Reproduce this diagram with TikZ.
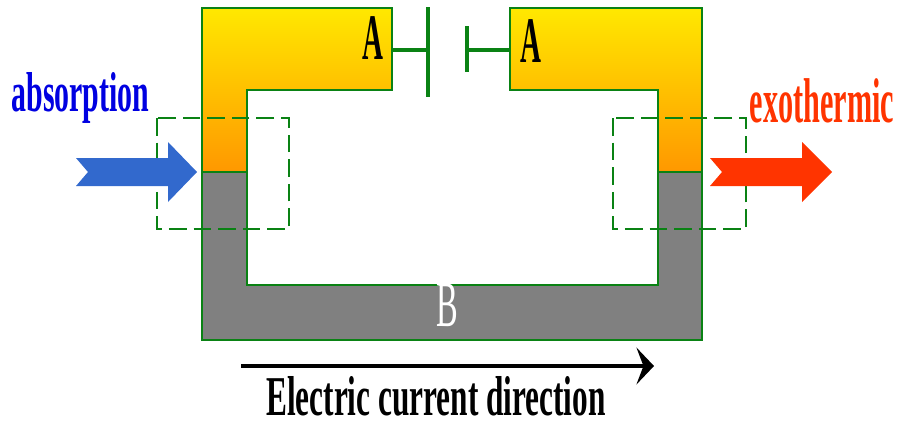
\documentclass[tikz,border=0pt]{standalone}
\usepackage{fontspec}
\setmainfont{Liberation Serif}
\usepackage{tikz}
\usetikzlibrary{arrows.meta}
\definecolor{wire}{RGB}{10,130,20}
\definecolor{metaltop}{RGB}{255,232,0}
\definecolor{metalbot}{RGB}{255,152,0}
\definecolor{heatblue}{RGB}{50,105,205}
\definecolor{heatred}{RGB}{255,52,0}
\newcommand{\wordbox}[3]{\scalebox{#1}[#2]{#3}}

\begin{document}
\begin{tikzpicture}[
    x=0.02cm, y=-0.02cm,
    metal/.style={draw=wire, line width=1.3pt, top color=metaltop, bottom color=metalbot},
    joint/.style={draw=wire, line width=1.3pt, fill=gray},
    plate/.style={draw=wire, line width=1.8pt},
    stem/.style={draw=wire, line width=2.4pt},
    probe/.style={draw=wire, line width=1.2pt, dash pattern=on 10pt off 4pt},
    word/.style={inner sep=0pt, font=\bfseries\fontsize{10}{12}\selectfont},
    current/.style={-{Stealth[length=10pt, width=21pt, inset=4pt]}, line width=2.6pt}
]
\useasboundingbox (0,0) rectangle (899,424);

% Metal B
\path[joint] (202,172) -- (247,172) -- (247,285) -- (658,285) -- (658,172) -- (702,172) -- (702,340) -- (202,340) -- cycle;

% Metal A
\path[metal] (202,8) -- (392,8) -- (392,90) -- (247,90) -- (247,172) -- (202,172) -- cycle;
\path[metal] (510,8) -- (702,8) -- (702,172) -- (658,172) -- (658,90) -- (510,90) -- cycle;

% Capacitor
\coordinate (stemL) at (392,50);
\coordinate (plateL) at (428,50);
\coordinate (plateLtop) at (428,7);
\coordinate (plateLbot) at (428,97);
\coordinate (stemR) at (510,50);
\coordinate (plateR) at (467,50);
\coordinate (plateRtop) at (467,26);
\coordinate (plateRbot) at (467,72);
\draw[stem] (stemL) -- (plateL);
\draw[plate] (plateLtop) -- (plateLbot);
\draw[stem] (stemR) -- (plateR);
\draw[plate] (plateRtop) -- (plateRbot);

% Junction boxes
\draw[probe] (157,118) rectangle (289,229);
\draw[probe] (613,118) rectangle (746,229);

% Heat arrows
\fill[heatblue] (76,158) -- (168,158) -- (168,142) -- (197,172) -- (168,202) -- (168,186) -- (76,186) -- (88,172) -- cycle;
\fill[heatred] (710,158) -- (802,158) -- (802,142) -- (832,172) -- (802,202) -- (802,186) -- (710,186) -- (722,172) -- cycle;

% Labels
\node[word, text={rgb,255:red,0;green,0;blue,225}] (absorption) at (80.5,98) {\wordbox{1.7}{3.2}{absorption}};
\node[word, text=heatred] (exothermic) at (822,101) {\wordbox{1.72}{3.6}{exothermic}};
\node[word] (metalAL) at (372.5,38) {\wordbox{1.65}{3.7}{A}};
\node[word] (metalAR) at (531,41.5) {\wordbox{1.65}{3.7}{A}};
\node[inner sep=0pt, font=\fontsize{10}{12}\selectfont, text=white] (metalB) at (447,305) {\wordbox{1.85}{3.7}{B}};

% Current direction
\coordinate (currentL) at (241,366);
\coordinate (currentR) at (654,366);
\draw[current] (currentL) -- (currentR);
\node[word] (direction) at (436,396) {\wordbox{1.78}{3.2}{Electric current direction}};

\end{tikzpicture}
\end{document}
